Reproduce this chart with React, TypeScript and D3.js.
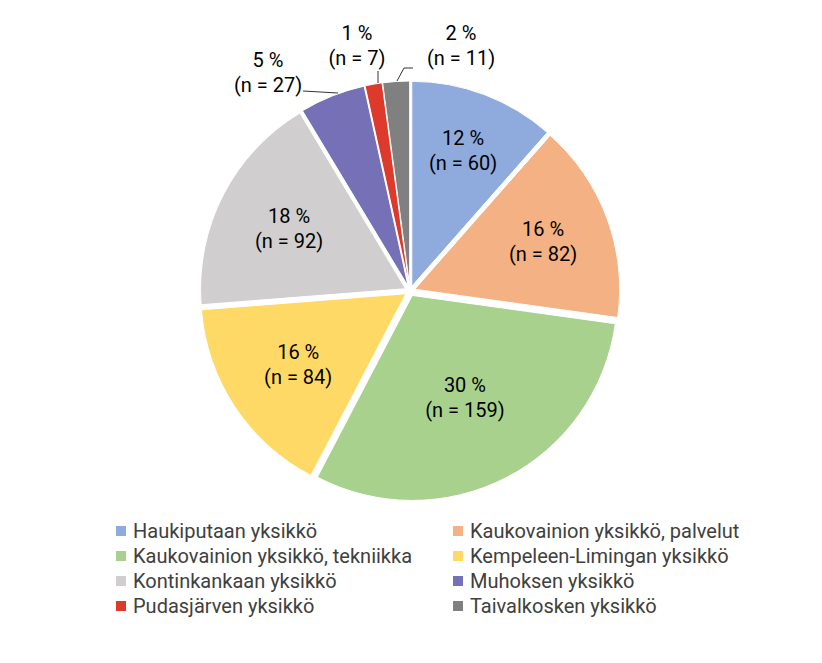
import React from "react";
import * as d3 from "d3";

const categories = [
  "Haukiputaan yksikkö",
  "Kaukovainion yksikkö, palvelut",
  "Kaukovainion yksikkö, tekniikka",
  "Kempeleen-Limingan yksikkö",
  "Kontinkankaan yksikkö",
  "Muhoksen yksikkö",
  "Pudasjärven yksikkö",
  "Taivalkosken yksikkö",
];
const counts = [60, 82, 159, 84, 92, 27, 7, 11];
const percentLabels = ["12 %", "16 %", "30 %", "16 %", "18 %", "5 %", "1 %", "2 %"];
const colors = ["#8FAADC", "#F4B183", "#A9D18E", "#FFD966", "#D0CECE", "#7671B6", "#DD3A2C", "#808080"];

// layout: label radius (inside) or fixed outside position
const labelRadius = [150, 142, 120, 134, 136, 0, 0, 0];
const outsideLabel: Record<number, { x: number; y: number; line: [number, number][] }> = {
  5: { x: 268, y: 72, line: [[303, 91], [338, 93]] },
  6: { x: 357, y: 45, line: [[378, 71], [378, 83]] },
  7: { x: 461, y: 45, line: [[397, 81], [404, 68], [413, 68]] },
};

const cx = 410;
const cy = 291;
const R = 205;
const explode = 5;
const font = "Roboto, sans-serif";
const fs = 20;

export default function App() {
  const pie = d3.pie<number>().sort(null).value((d) => d)(counts);
  const arc = d3.arc<d3.PieArcDatum<number>>().innerRadius(0).outerRadius(R);

  return (
    <svg width={822} height={663} style={{ position: "absolute", left: 0, top: 0 }}>
      <rect width={822} height={663} fill="#fff" />
      <g transform={`translate(${cx},${cy})`}>
        {pie.map((p, i) => {
          const mid = (p.startAngle + p.endAngle) / 2;
          const dx = Math.sin(mid) * explode;
          const dy = -Math.cos(mid) * explode;
          return (
            <path
              key={i}
              d={arc(p) || ""}
              transform={`translate(${dx},${dy})`}
              fill={colors[i]}
              stroke="#fff"
              strokeWidth={1}
            />
          );
        })}
      </g>
      {pie.map((p, i) => {
        const mid = (p.startAngle + p.endAngle) / 2;
        let x: number, y: number;
        const o = outsideLabel[i];
        if (o) {
          x = o.x;
          y = o.y;
        } else {
          x = cx + Math.sin(mid) * labelRadius[i];
          y = cy - Math.cos(mid) * labelRadius[i];
        }
        return (
          <g key={i}>
            {o && (
              <polyline
                points={o.line.map((pt) => pt.join(",")).join(" ")}
                fill="none"
                stroke="#000"
                strokeWidth={0.8}
              />
            )}
            <text
              x={x}
              y={y - 12.5}
              textAnchor="middle"
              dominantBaseline="central"
              fontFamily={font}
              fontSize={fs}
              fill="#000"
            >
              {percentLabels[i]}
            </text>
            <text
              x={x}
              y={y + 12.5}
              textAnchor="middle"
              dominantBaseline="central"
              fontFamily={font}
              fontSize={fs}
              fill="#000"
            >
              {`(n = ${counts[i]})`}
            </text>
          </g>
        );
      })}
      {categories.map((c, i) => {
        const col = i % 2;
        const row = Math.floor(i / 2);
        const x = col === 0 ? 116 : 453;
        const y = 531 + row * 25;
        return (
          <g key={c}>
            <rect x={x} y={y - 5} width={10} height={10} fill={colors[i]} />
            <text
              x={x + 17}
              y={y}
              dominantBaseline="central"
              fontFamily={font}
              fontSize={fs}
              fill="#404040"
            >
              {c}
            </text>
          </g>
        );
      })}
    </svg>
  );
}
